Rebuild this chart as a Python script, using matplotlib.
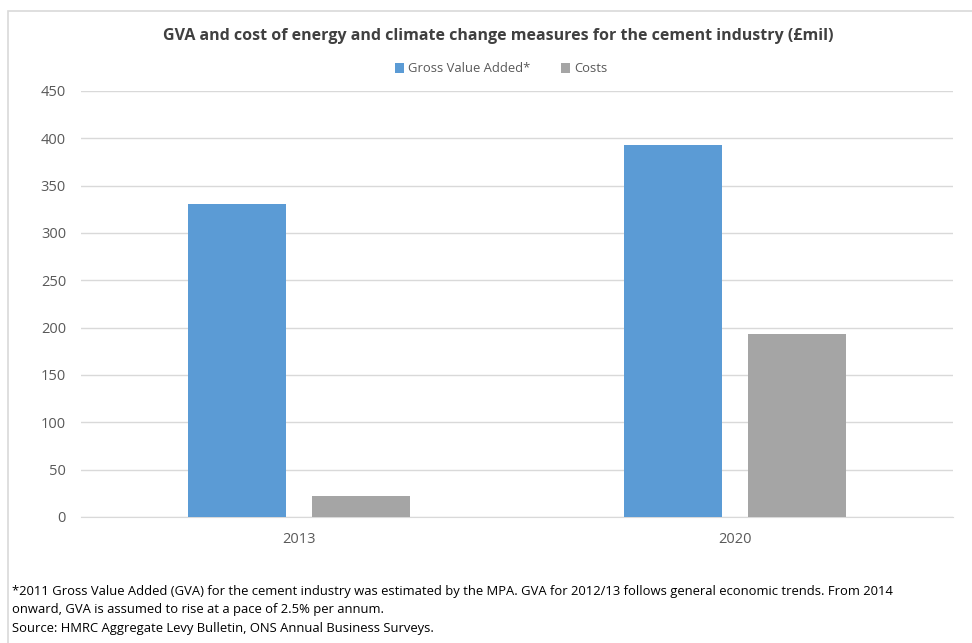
import numpy as np
import matplotlib
matplotlib.use("Agg")
from matplotlib import pyplot as plt
from matplotlib.patches import Rectangle

plt.rcParams['font.family'] = ['Open Sans', 'DejaVu Sans']

# data
years = ['2013', '2020']
gva = [331, 393]
costs = [22, 193]
series_names = ['Gross Value Added*', 'Costs']
yticks = [0, 50, 100, 150, 200, 250, 300, 350, 400, 450]

title = 'GVA and cost of energy and climate change measures for the cement industry (£mil)'
footnote = ('*2011 Gross Value Added (GVA) for the cement industry was estimated by the MPA. '
            'GVA for 2012/13 follows general economic trends. From 2014\n'
            'onward, GVA is assumed to rise at a pace of 2.5% per annum.\n'
            'Source: HMRC Aggregate Levy Bulletin, ONS Annual Business Surveys.')

blue = '#5B9BD5'
grey = '#A5A5A5'
grid_col = '#D9D9D9'
text_col = '#595959'

W, H = 972, 643
fig = plt.figure(figsize=(W / 100, H / 100), dpi=100)

# outer chart border (open on the right and bottom, as in the screenshot)
fig.patches.append(Rectangle((8 / W, -0.1), 1.2, 1 - 11 / H + 0.1,
                             transform=fig.transFigure, fill=False,
                             edgecolor=grid_col, linewidth=1.2))

ax = fig.add_axes([81 / W, 1 - 517 / H, (953 - 81) / W, (517 - 91) / H])

x = np.arange(len(years))
bw = 0.225
off = 0.142
ax.bar(x - off, gva, bw, color=blue, label=series_names[0], zorder=3)
ax.bar(x + off, costs, bw, color=grey, label=series_names[1], zorder=3)

ax.set_xlim(-0.5, 1.5)
ax.set_ylim(0, 450)
ax.set_yticks(yticks)
ax.set_xticks(x)
ax.set_xticklabels(years)
ax.yaxis.grid(True, color=grid_col, linewidth=1, zorder=0)
for s in ['top', 'right', 'left']:
    ax.spines[s].set_visible(False)
ax.spines['bottom'].set_color(grid_col)
ax.tick_params(axis='both', length=0, colors=text_col, labelsize=10.5)
ax.tick_params(axis='y', pad=10.8)
ax.tick_params(axis='x', pad=11)

fig.text(498 / W, 1 - 36 / H, title, ha='center', va='center',
         fontsize=11.5, fontweight='bold', color='#404040')

fig.legend(loc='center', bbox_to_anchor=(501 / W, 1 - 69 / H), ncol=2,
           frameon=False, fontsize=9.4, handlelength=0.75, handleheight=0.75,
           handletextpad=0.3, columnspacing=2.3, labelcolor=text_col)

fig.text(12 / W, 1 - 610 / H, footnote, ha='left', va='center',
         fontsize=9.35, color='#000000', linespacing=1.55)

fig.savefig('out.png', dpi=100)
